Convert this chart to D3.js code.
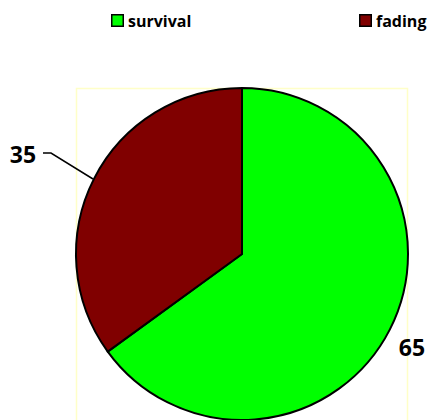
<!DOCTYPE html>
<html>
<head>
<meta charset="utf-8">
<script src="https://cdn.jsdelivr.net/npm/d3@7"></script>
<style>
  body { margin: 0; background: #fff; }
  text { font-family: "Open Sans", "Liberation Sans", sans-serif; font-weight: bold; }
</style>
</head>
<body>
<svg id="chart" width="435" height="420"></svg>
<script>
const categories = ["survival", "fading"];
const values = [65, 35];
const colors = ["#00ff00", "#800000"];

const svg = d3.select("#chart");
const cx = 242, cy = 254, r = 166;

// plot area border
svg.append("rect")
  .attr("x", 76.5).attr("y", 88.5)
  .attr("width", 331).attr("height", 340)
  .attr("fill", "none")
  .attr("stroke", "#ffffc8")
  .attr("stroke-width", 1.5);

const pie = d3.pie().sort(null).value(d => d)(values);
const arc = d3.arc().innerRadius(0).outerRadius(r);

const g = svg.append("g").attr("transform", `translate(${cx},${cy})`);

g.selectAll("path")
  .data(pie)
  .enter()
  .append("path")
  .attr("d", arc)
  .attr("fill", (d, i) => colors[i])
  .attr("stroke", "#000")
  .attr("stroke-width", 2)
  .attr("stroke-linejoin", "round");

// data labels
const labelPos = [
  { x: 412, y: 356 },
  { x: 23, y: 163 }
];
g.selectAll("text.lbl")
  .data(pie)
  .enter()
  .append("text")
  .attr("class", "lbl")
  .attr("x", (d, i) => labelPos[i].x - cx)
  .attr("y", (d, i) => labelPos[i].y - cy)
  .attr("text-anchor", "middle")
  .attr("font-size", 23)
  .attr("fill", "#000")
  .text(d => d.data);

// leader line for the small slice
g.append("polyline")
  .attr("points", [[43 - cx, 153 - cy], [51 - cx, 153 - cy], [93 - cx, 179 - cy]].map(p => p.join(",")).join(" "))
  .attr("fill", "none")
  .attr("stroke", "#000")
  .attr("stroke-width", 1.5);

// legend
const legendX = [111, 359];
const leg = svg.selectAll("g.leg")
  .data(categories)
  .enter()
  .append("g")
  .attr("class", "leg")
  .attr("transform", (d, i) => `translate(${legendX[i]},14)`);

leg.append("rect")
  .attr("x", 0.75).attr("y", 0.75)
  .attr("width", 11.5).attr("height", 11.5)
  .attr("fill", (d, i) => colors[i])
  .attr("stroke", "#000")
  .attr("stroke-width", 1.5);

leg.append("text")
  .attr("x", 17)
  .attr("y", 13)
  .attr("font-size", 16)
  .attr("fill", "#000")
  .text(d => d);
</script>
</body>
</html>
